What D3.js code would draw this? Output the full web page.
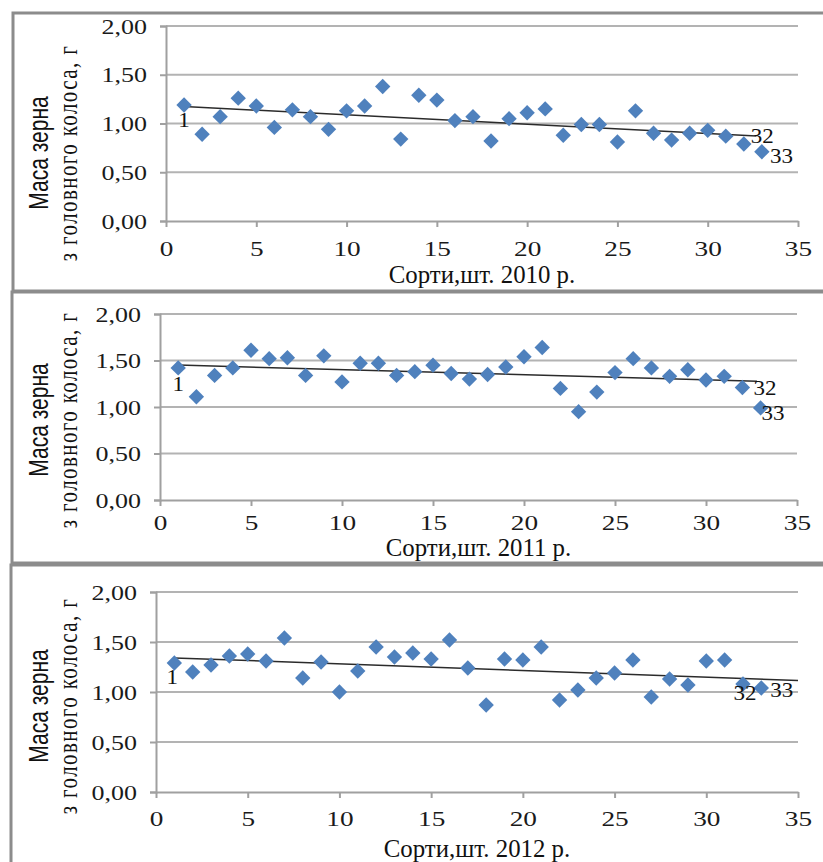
<!DOCTYPE html>
<html>
<head>
<meta charset="utf-8">
<script src="https://cdn.jsdelivr.net/npm/d3@7"></script>
<style>
  body { margin: 0; background: #fff; }
  svg { display: block; }
</style>
</head>
<body>
<svg id="chart" width="823" height="862"></svg>
<script>
// data
const sorts = d3.range(1, 34);
const mass2010 = [1.19, 0.89, 1.07, 1.26, 1.18, 0.96, 1.14, 1.07, 0.94, 1.13, 1.18,
                  1.38, 0.84, 1.29, 1.24, 1.03, 1.07, 0.82, 1.05, 1.11, 1.15, 0.88,
                  0.99, 0.99, 0.81, 1.13, 0.90, 0.83, 0.90, 0.93, 0.87, 0.79, 0.71];
const mass2011 = [1.42, 1.11, 1.34, 1.42, 1.61, 1.52, 1.53, 1.34, 1.55, 1.27, 1.47,
                  1.47, 1.34, 1.38, 1.45, 1.36, 1.30, 1.35, 1.43, 1.54, 1.64, 1.20,
                  0.95, 1.16, 1.37, 1.52, 1.42, 1.33, 1.40, 1.29, 1.33, 1.21, 0.99];
const mass2012 = [1.29, 1.20, 1.27, 1.36, 1.38, 1.31, 1.54, 1.14, 1.30, 1.00, 1.21,
                  1.45, 1.35, 1.39, 1.33, 1.52, 1.24, 0.87, 1.33, 1.32, 1.45, 0.92,
                  1.02, 1.14, 1.19, 1.32, 0.95, 1.13, 1.07, 1.31, 1.32, 1.08, 1.04];
const years = ["2010", "2011", "2012"];
const xTicks = [0, 5, 10, 15, 20, 25, 30, 35];
const yTicks = [0, 0.5, 1, 1.5, 2];
const trendEnd = [32.7, 32.8, 35];
const labelled = [1, 32, 33];

const yTitle1 = "Маса зерна";
const yTitle2 = "з головного колоса, г";
const xTitle = y => `Сорти,шт. ${y} р.`;

const fmt = v => d3.format(".2f")(v).replace(".", ",");

// layout of the three stacked panels
const layout = [
  {frame: [13, 13, 278], plot: {l: 166, r: 798, t: 26, b: 221}, titleY: 153, xTitleY: 283, tickY: 35,
   marks: {1: [0, 22, "middle"], 32: [7, -1, "start"], 33: [8, 11, "start"]}},
  {frame: [12, 292, 271], plot: {l: 160, r: 797, t: 314, b: 500}, titleY: 420, xTitleY: 556, tickY: 30,
   marks: {1: [0, 23, "middle"], 32: [11, 8, "start"], 33: [1, 12, "start"]}},
  {frame: [11, 565, 400], plot: {l: 156, r: 798, t: 592, b: 792}, titleY: 706, xTitleY: 857, tickY: 34,
   marks: {1: [-2, 21, "middle"], 32: [2, 16, "middle"], 33: [9, 9, "start"]}}
];
const series = [mass2010, mass2011, mass2012];

const svg = d3.select("#chart");
const diamond = d3.symbol(d3.symbolSquare, 118);

function trend(xs, ys) {
  const mx = d3.mean(xs), my = d3.mean(ys);
  const k = d3.sum(xs, (x, i) => (x - mx) * (ys[i] - my)) / d3.sum(xs, x => (x - mx) ** 2);
  return x => my + k * (x - mx);
}

layout.forEach((p, i) => {
  const values = series[i];
  const g = svg.append("g").attr("class", "panel");

  // frame
  g.append("rect")
    .attr("x", p.frame[0]).attr("y", p.frame[1])
    .attr("width", 900).attr("height", p.frame[2])
    .attr("fill", "none").attr("stroke", "#8c8c8c").attr("stroke-width", 3);

  const x = d3.scaleLinear().domain([0, 35]).range([p.plot.l, p.plot.r]);
  const y = d3.scaleLinear().domain([0, 2]).range([p.plot.b, p.plot.t]);

  // gridlines
  g.append("g").selectAll("line").data(yTicks.slice(1)).join("line")
    .attr("x1", p.plot.l).attr("x2", p.plot.r)
    .attr("y1", d => y(d)).attr("y2", d => y(d))
    .attr("stroke", "#b3b3b3").attr("stroke-width", 2);

  // y axis
  const ya = g.append("g").attr("transform", `translate(${p.plot.l},0)`)
    .call(d3.axisLeft(y).tickValues(yTicks).tickSize(6).tickFormat(fmt));
  ya.select(".domain").attr("stroke", "#a0a0a0").attr("stroke-width", 2);
  ya.selectAll(".tick line").attr("stroke", "#a0a0a0").attr("stroke-width", 2);
  ya.selectAll(".tick text")
    .attr("x", 0).attr("dy", null)
    .attr("transform", "translate(-19,7) scale(1.3,1)")
    .attr("text-anchor", "end")
    .style("font-family", "'Liberation Serif', serif").style("font-size", "20px")
    .attr("fill", "#1a1a1a");

  // x axis
  const xa = g.append("g").attr("transform", `translate(0,${p.plot.b})`)
    .call(d3.axisBottom(x).tickValues(xTicks).tickSize(6).tickSizeOuter(0));
  xa.select(".domain").attr("stroke", "#a0a0a0").attr("stroke-width", 2);
  xa.selectAll(".tick line").attr("stroke", "#a0a0a0").attr("stroke-width", 2);
  xa.selectAll(".tick text")
    .attr("y", 0).attr("dy", null)
    .attr("transform", `translate(0,${p.tickY}) scale(1.3,1)`)
    .style("font-family", "'Liberation Serif', serif").style("font-size", "21px")
    .attr("fill", "#1a1a1a");

  // trend line
  const f = trend(sorts, values);
  g.append("line")
    .attr("x1", x(1)).attr("y1", y(f(1)))
    .attr("x2", x(trendEnd[i])).attr("y2", y(f(trendEnd[i])))
    .attr("stroke", "#2b2b2b").attr("stroke-width", 1.5);

  // points
  g.append("g").selectAll("path").data(sorts).join("path")
    .attr("d", diamond)
    .attr("transform", d => `translate(${x(d)},${y(values[d - 1])}) rotate(45)`)
    .attr("fill", "#4f81bd");

  // point labels
  g.append("g").selectAll("text").data(labelled).join("text")
    .attr("transform", d => `translate(${x(d) + p.marks[d][0]},${y(values[d - 1]) + p.marks[d][1]}) scale(1.15,1)`)
    .attr("text-anchor", d => p.marks[d][2])
    .style("font-family", "'Liberation Serif', serif").style("font-size", "20px")
    .attr("fill", "#111")
    .text(d => d);

  // axis titles
  g.append("text")
    .attr("transform", `translate(48,${p.titleY}) scale(1.3,1) rotate(-90)`)
    .attr("text-anchor", "middle")
    .style("font-family", "'Liberation Sans', sans-serif").style("font-size", "21px")
    .attr("fill", "#111")
    .text(yTitle1);
  g.append("text")
    .attr("transform", `translate(77,${p.titleY}) scale(1.3,1) rotate(-90)`)
    .attr("text-anchor", "middle")
    .style("font-family", "'Liberation Serif', serif").style("font-size", "21px")
    .style("letter-spacing", "1.4px")
    .attr("fill", "#111")
    .text(yTitle2);
  g.append("text")
    .attr("transform", `translate(${(p.plot.l + p.plot.r) / 2},${p.xTitleY}) scale(1.08,1.05)`)
    .attr("text-anchor", "middle")
    .style("font-family", "'Liberation Serif', serif").style("font-size", "23px")
    .attr("fill", "#111")
    .text(xTitle(years[i]));
});
</script>
</body>
</html>
